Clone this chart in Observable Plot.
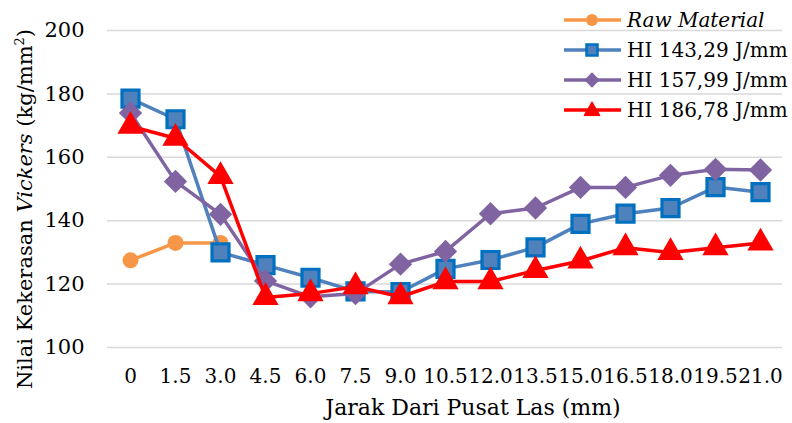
<!DOCTYPE html>
<html>
<head>
<meta charset="utf-8">
<script src="https://cdn.jsdelivr.net/npm/d3@7"></script>
<script src="https://cdn.jsdelivr.net/npm/@observablehq/plot@0.6"></script>
<style>
  html, body { margin: 0; padding: 0; background: #fff; }
  #chart svg { display: block; }
</style>
</head>
<body>
<div id="chart"></div>
<script>
// ---- data ----
const distances = ["0", "1.5", "3.0", "4.5", "6.0", "7.5", "9.0", "10.5", "12.0", "13.5", "15.0", "16.5", "18.0", "19.5", "21.0"];
const seriesNames = ["Raw Material", "HI 143,29 J/mm", "HI 157,99 J/mm", "HI 186,78 J/mm"];
const rawMaterial = [127.5, 133, 133];
const hi14329 = [178.5, 172, 130, 126, 122, 117.7, 117.5, 124.8, 127.6, 131.6, 139, 142.2, 144, 150.6, 149];
const hi15799 = [174, 152.4, 142, 121, 116, 117, 126.3, 130.3, 142.2, 144, 150.5, 150.5, 154.3, 156.2, 156];
const hi18678 = [169.8, 166, 154, 115.8, 117, 119.2, 116, 120.8, 120.8, 124.3, 127.3, 131.5, 130, 131.5, 133];
const yTicks = [100, 120, 140, 160, 180, 200];

const colors = {
  raw: "#F79646",
  blueLine: "#4F81BD", blueFill: "#4F81BD", blueStroke: "#0070C0",
  purple: "#8064A2",
  red: "#FF0000"
};

function rows(values) {
  return values.map((v, i) => ({x: distances[i], y: v}));
}
const dRaw = rows(rawMaterial);
const dBlue = rows(hi14329);
const dPurple = rows(hi15799);
const dRed = rows(hi18678);

const W = 792, H = 423;
const fontFamily = "'DejaVu Serif', serif";

const plot = Plot.plot({
  width: W,
  height: H,
  marginLeft: 107,
  marginRight: 10,
  marginTop: 30,
  marginBottom: 76,
  style: {fontFamily, fontSize: "20px", color: "#000", background: "#fff"},
  x: {type: "point", domain: distances, padding: 0.5},
  y: {domain: [100, 200]},
  marks: [
    Plot.ruleY(yTicks, {stroke: "#D9D9D9", strokeWidth: 1.5}),
    Plot.axisY({ticks: yTicks, tickSize: 0, tickPadding: 23, label: null, fontSize: 21}),
    Plot.axisX({tickSize: 0, tickPadding: 21, label: null, fontSize: 20}),
    // Raw material
    Plot.line(dRaw, {x: "x", y: "y", stroke: colors.raw, strokeWidth: 3.5}),
    Plot.dot(dRaw, {x: "x", y: "y", r: 8, fill: colors.raw, stroke: "none"}),
    // HI 143,29
    Plot.line(dBlue, {x: "x", y: "y", stroke: colors.blueLine, strokeWidth: 3.5}),
    Plot.dot(dBlue, {x: "x", y: "y", symbol: "square", r: 9.6, fill: colors.blueFill, stroke: colors.blueStroke, strokeWidth: 3.2}),
    // HI 157,99
    Plot.line(dPurple, {x: "x", y: "y", stroke: colors.purple, strokeWidth: 3.5}),
    Plot.dot(dPurple, {x: "x", y: "y", symbol: "diamond2", r: 10.5, fill: colors.purple, stroke: "none"}),
    // HI 186,78
    Plot.line(dRed, {x: "x", y: "y", stroke: colors.red, strokeWidth: 3.5}),
    Plot.dot(dRed, {x: "x", y: "y", symbol: "triangle", r: 8.8, fill: colors.red, stroke: colors.red, strokeWidth: 1.5, strokeLinejoin: "miter"})
  ]
});

document.getElementById("chart").appendChild(plot);

const svg = d3.select(plot);

// x-axis title
svg.append("text")
  .attr("x", 473)
  .attr("y", 415)
  .attr("text-anchor", "middle")
  .attr("font-family", fontFamily)
  .attr("font-size", 22)
  .attr("fill", "#000")
  .text("Jarak Dari Pusat Las (mm)");

// y-axis title with italic part
const yt = svg.append("text")
  .attr("transform", "translate(32,209) rotate(-90)")
  .attr("text-anchor", "middle")
  .attr("font-family", fontFamily)
  .attr("font-size", 21)
  .attr("fill", "#000");
yt.append("tspan").text("Nilai Kekerasan ");
yt.append("tspan").attr("font-style", "italic").text("Vickers");
yt.append("tspan").text(" (kg/mm");
yt.append("tspan").attr("font-size", 13).attr("dy", -8).text("2");
yt.append("tspan").attr("dy", 8).text(")");

// legend
const legend = svg.append("g")
  .attr("font-family", fontFamily)
  .attr("font-size", 20)
  .attr("fill", "#000")
  .attr("text-anchor", "start");
const legendY = [20, 50, 80, 110];
const lineX1 = 564, lineX2 = 621, markX = 592, textX = 627;
const legendStyles = [
  {color: colors.raw, sym: "circle"},
  {color: colors.blueLine, sym: "square"},
  {color: colors.purple, sym: "diamond"},
  {color: colors.red, sym: "triangle"}
];
seriesNames.forEach((name, i) => {
  const y = legendY[i];
  const st = legendStyles[i];
  const g = legend.append("g");
  g.append("line").attr("x1", lineX1).attr("x2", lineX2).attr("y1", y).attr("y2", y)
    .attr("stroke", st.color).attr("stroke-width", 3.5);
  if (st.sym === "circle") {
    g.append("circle").attr("cx", markX).attr("cy", y).attr("r", 6).attr("fill", colors.raw);
  } else if (st.sym === "square") {
    g.append("rect").attr("x", markX - 5.5).attr("y", y - 5.5).attr("width", 11).attr("height", 11)
      .attr("fill", colors.blueFill).attr("stroke", colors.blueStroke).attr("stroke-width", 2.5);
  } else if (st.sym === "diamond") {
    g.append("path").attr("d", d3.symbol(d3.symbolDiamond2, 150)()).attr("transform", `translate(${markX},${y})`)
      .attr("fill", colors.purple);
  } else {
    g.append("path").attr("d", d3.symbol(d3.symbolTriangle, 110)()).attr("transform", `translate(${markX},${y + 1})`)
      .attr("fill", colors.red).attr("stroke", colors.red).attr("stroke-width", 1);
  }
  const t = g.append("text").attr("x", textX).attr("y", y).attr("dy", "0.35em")
    .attr("text-anchor", "start").text(name);
  if (i === 0) t.attr("font-style", "italic");
});
</script>
</body>
</html>
